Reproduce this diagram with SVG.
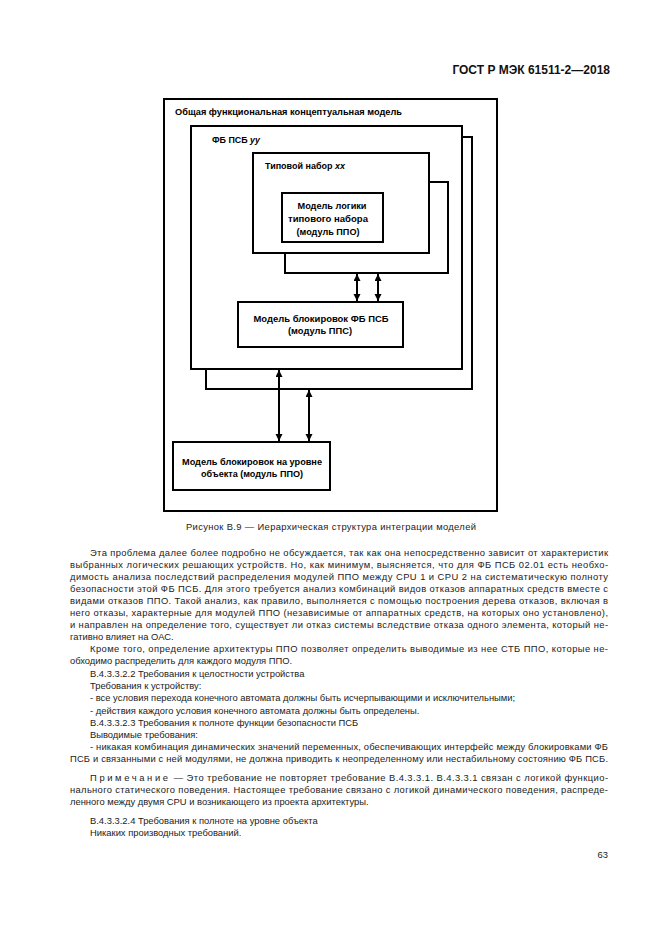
<svg xmlns="http://www.w3.org/2000/svg" width="661" height="935" viewBox="0 0 661 935">
<style>
.box{fill:none;stroke:#000;stroke-width:2}
.bx{fill:#fff;stroke:#000;stroke-width:2}
.lt{font-family:"Liberation Sans",Arial,sans-serif;font-size:9px;font-weight:bold;fill:#000}
.ltc{font-family:"Liberation Sans",Arial,sans-serif;font-size:9px;font-weight:bold;fill:#000;text-anchor:middle}
.b{font-family:"Liberation Sans",Arial,sans-serif;font-size:9.4px;fill:#222}
.hd{font-family:"Liberation Sans",Arial,sans-serif;font-size:12px;font-weight:bold;fill:#111;text-anchor:end}
.ar{stroke:#000;stroke-width:2;fill:none;marker-start:url(#ah);marker-end:url(#ah)}
</style>
<defs>
<marker id="ah" markerUnits="userSpaceOnUse" markerWidth="8" markerHeight="8" refX="7" refY="3.5" orient="auto-start-reverse">
<path d="M0,0 L7,3.5 L0,7 Z" fill="#000"/>
</marker>
</defs>
<rect width="661" height="935" fill="#fff"/>
<text class="hd" x="610" y="74">ГОСТ Р МЭК 61511-2—2018</text>

<g id="outer">
<rect class="box" x="164" y="99" width="333" height="412"/>
<text class="lt" x="175" y="115" textLength="227" lengthAdjust="spacingAndGlyphs">Общая функциональная концептуальная модель</text>
</g>
<g id="fbpsb-shadow">
<rect class="bx" x="206" y="137" width="266" height="252"/>
</g>
<g id="fbpsb">
<rect class="bx" x="191" y="126" width="271" height="243"/>
<text class="lt" x="212" y="143" textLength="48" lengthAdjust="spacingAndGlyphs">ФБ ПСБ <tspan font-style="italic">уу</tspan></text>
</g>
<g id="tipovoy-shadow">
<rect class="bx" x="285" y="182" width="163" height="91"/>
</g>
<g id="tipovoy">
<rect class="bx" x="253" y="153" width="176" height="100"/>
<text class="lt" x="265" y="169" font-weight="normal" textLength="80" lengthAdjust="spacingAndGlyphs">Типовой набор <tspan font-style="italic">хх</tspan></text>
</g>
<g id="logic-model">
<rect class="bx" x="282" y="193" width="101" height="49"/>
<text class="ltc" x="332" y="209" textLength="69" lengthAdjust="spacingAndGlyphs">Модель логики</text>
<text class="ltc" x="328" y="222" textLength="80" lengthAdjust="spacingAndGlyphs">типового набора</text>
<text class="ltc" x="328" y="235" textLength="63" lengthAdjust="spacingAndGlyphs">(модуль ППО)</text>
</g>
<g id="fb-interlock">
<rect class="bx" x="238" y="302" width="165" height="45"/>
<text class="ltc" x="321" y="322" textLength="135" lengthAdjust="spacingAndGlyphs">Модель блокировок ФБ ПСБ</text>
<text class="ltc" x="320" y="334" textLength="64" lengthAdjust="spacingAndGlyphs">(модуль ППС)</text>
</g>
<g id="object-interlock">
<rect class="bx" x="173" y="442" width="157" height="48"/>
<text class="ltc" x="252" y="465" textLength="140" lengthAdjust="spacingAndGlyphs">Модель блокировок на уровне</text>
<text class="ltc" x="252" y="477" textLength="102" lengthAdjust="spacingAndGlyphs">объекта (модуль ППО)</text>
</g>
<g id="connectors">
<line class="ar" x1="357" y1="274" x2="357" y2="301"/>
<line class="ar" x1="378" y1="274" x2="378" y2="301"/>
<line class="ar" x1="279" y1="370" x2="279" y2="441"/>
<line class="ar" x1="309" y1="390" x2="309" y2="441"/>
</g>

<text class="b" x="331" y="530" text-anchor="middle" textLength="290" lengthAdjust="spacing">Рисунок В.9 — Иерархическая структура интеграции моделей</text>

<g id="body">
<text class="b" x="90" y="556" textLength="518" lengthAdjust="spacing">Эта проблема далее более подробно не обсуждается, так как она непосредственно зависит от характеристик</text>
<text class="b" x="70" y="568" textLength="538" lengthAdjust="spacing">выбранных логических решающих устройств. Но, как минимум, выясняется, что для ФБ ПСБ 02.01 есть необхо-</text>
<text class="b" x="70" y="580" textLength="538" lengthAdjust="spacing">димость анализа последствий распределения модулей ППО между CPU 1 и CPU 2 на систематическую полноту</text>
<text class="b" x="70" y="592" textLength="538" lengthAdjust="spacing">безопасности этой ФБ ПСБ. Для этого требуется анализ комбинаций видов отказов аппаратных средств вместе с</text>
<text class="b" x="70" y="604" textLength="538" lengthAdjust="spacing">видами отказов ППО. Такой анализ, как правило, выполняется с помощью построения дерева отказов, включая в</text>
<text class="b" x="70" y="616" textLength="538" lengthAdjust="spacing">него отказы, характерные для модулей ППО (независимые от аппаратных средств, на которых оно установлено),</text>
<text class="b" x="70" y="628" textLength="538" lengthAdjust="spacing">и направлен на определение того, существует ли отказ системы вследствие отказа одного элемента, который не-</text>
<text class="b" x="70" y="640">гативно влияет на ОАС.</text>
<text class="b" x="90" y="652" textLength="518" lengthAdjust="spacing">Кроме того, определение архитектуры ППО позволяет определить выводимые из нее СТБ ППО, которые не-</text>
<text class="b" x="70" y="664">обходимо распределить для каждого модуля ППО.</text>
<text class="b" x="90" y="677">В.4.3.3.2.2 Требования к целостности устройства</text>
<text class="b" x="90" y="689">Требования к устройству:</text>
<text class="b" x="90" y="701">- все условия перехода конечного автомата должны быть исчерпывающими и исключительными;</text>
<text class="b" x="90" y="714">- действия каждого условия конечного автомата должны быть определены.</text>
<text class="b" x="90" y="726">В.4.3.3.2.3 Требования к полноте функции безопасности ПСБ</text>
<text class="b" x="90" y="738">Выводимые требования:</text>
<text class="b" x="90" y="750" textLength="518" lengthAdjust="spacing">- никакая комбинация динамических значений переменных, обеспечивающих интерфейс между блокировками ФБ</text>
<text class="b" x="70" y="762" textLength="538" lengthAdjust="spacing">ПСБ и связанными с ней модулями, не должна приводить к неопределенному или нестабильному состоянию ФБ ПСБ.</text>
<text class="b" x="90" y="781" font-size="9" textLength="518" lengthAdjust="spacing"><tspan letter-spacing="2.2">Примечание</tspan> — Это требование не повторяет требование В.4.3.3.1. В.4.3.3.1 связан с логикой функцио-</text>
<text class="b" x="70" y="793" font-size="9" textLength="538" lengthAdjust="spacing">нального статического поведения. Настоящее требование связано с логикой динамического поведения, распреде-</text>
<text class="b" x="70" y="805" font-size="9">ленного между двумя CPU и возникающего из проекта архитектуры.</text>
<text class="b" x="90" y="824">В.4.3.3.2.4 Требования к полноте на уровне объекта</text>
<text class="b" x="90" y="836">Никаких производных требований.</text>
<text class="b" x="608" y="858" text-anchor="end">63</text>
</g>
</svg>
